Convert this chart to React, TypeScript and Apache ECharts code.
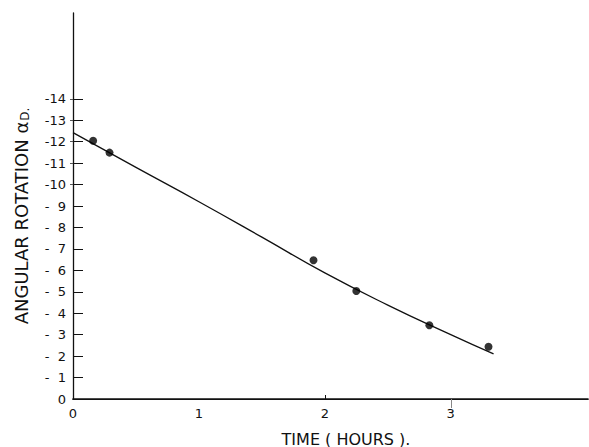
import React, { useEffect, useRef } from "react";
import * as echarts from "echarts";

// Measured points (time in hours, angular rotation magnitude)
const pointTimes = [0.16, 0.29, 1.91, 2.25, 2.83, 3.3];
const pointRotations = [12.04, 11.49, 6.47, 5.04, 3.44, 2.44];

// Fitted curve drawn through the data
const curveTimes = [0, 0.5, 1.0, 1.5, 2.0, 2.5, 3.0, 3.34];
const curveRotations = [12.42, 10.8, 9.2, 7.55, 5.88, 4.38, 3.0, 2.1];

const xTickLabels = [0, 1, 2, 3];
const yTickLabels = [0, 1, 2, 3, 4, 5, 6, 7, 8, 9, 10, 11, 12, 13, 14];
const yTickMarks = [1, 2, 3, 4, 5, 6, 7, 8, 9, 10, 11, 12, 13, 14];

const FONT = "DejaVu Sans";
const INK = "#111";

export default function App() {
  const ref = useRef<HTMLDivElement>(null);

  useEffect(() => {
    if (!ref.current) return;
    const chart = echarts.init(ref.current, null, { renderer: "svg" });
    const fmtY = (v: number) => {
      if (v === 0) return "0";
      return v >= 10 ? "-" + v : "-\u2007" + v;
    };
    chart.setOption({
      animation: false,
      backgroundColor: "#fff",
      grid: { left: 73, right: 1, top: 13, bottom: 48, containLabel: false },
      xAxis: [
        {
          type: "value",
          min: 0,
          max: 4.09,
          interval: 1,
          position: "bottom",
          axisLine: { show: true, lineStyle: { color: INK, width: 1.6 } },
          axisTick: { show: true, inside: true, length: 4, customValues: [2], lineStyle: { color: INK } },
          axisLabel: {
            customValues: xTickLabels,
            color: INK,
            fontFamily: FONT,
            fontSize: 13,
            margin: 8,
          },
          splitLine: { show: false },
        },
        {
          type: "value",
          min: 0,
          max: 4.09,
          interval: 1,
          position: "top",
          axisLine: { show: true, lineStyle: { color: INK, width: 1.2 } },
          axisTick: { show: true, inside: true, length: 9, customValues: [3], lineStyle: { color: "#888" } },
          axisLabel: { show: false },
          splitLine: { show: false },
        },
      ],
      yAxis: [
        {
          type: "value",
          min: 0,
          max: 18,
          interval: 1,
          position: "left",
          axisLine: { show: true, lineStyle: { color: INK, width: 1.3 } },
          axisTick: { show: true, inside: true, length: 10, customValues: yTickMarks, lineStyle: { color: INK } },
          axisLabel: {
            customValues: yTickLabels,
            formatter: fmtY,
            color: INK,
            fontFamily: FONT,
            fontSize: 13,
            margin: 7,
          },
          splitLine: { show: false },
        },
        {
          type: "value",
          min: 0,
          max: 18,
          interval: 1,
          position: "right",
          axisLine: { show: false },
          axisTick: { show: true, inside: true, length: 3, customValues: [10, 11, 12, 13, 14], lineStyle: { color: "#555" } },
          axisLabel: { show: false },
          splitLine: { show: false },
        },
      ],
      series: [
        {
          type: "line",
          data: curveTimes.map((t, i) => [t, curveRotations[i]]),
          smooth: true,
          showSymbol: false,
          lineStyle: { color: INK, width: 1.3 },
          xAxisIndex: 0,
          yAxisIndex: 0,
          z: 2,
        },
        {
          type: "scatter",
          data: pointTimes.map((t, i) => [t, pointRotations[i]]),
          symbol: "circle",
          symbolSize: 8,
          itemStyle: { color: "#000" },
          xAxisIndex: 0,
          yAxisIndex: 0,
          z: 3,
        },
      ],
      graphic: [
        {
          type: "text",
          x: 21,
          y: 216,
          rotation: Math.PI / 2,
          style: {
            text: "{a|ANGULAR ROTATION α}{s|D.}",
            align: "center",
            verticalAlign: "middle",
            fill: INK,
            rich: {
              a: { fontFamily: FONT, fontSize: 18, fill: INK, color: INK },
              s: { fontFamily: FONT, fontSize: 12, fill: INK, color: INK, verticalAlign: "bottom", padding: [8, 0, 0, 1] },
            },
          },
        },
        {
          type: "text",
          x: 346,
          y: 439,
          style: {
            text: "TIME ( HOURS ).",
            align: "center",
            verticalAlign: "middle",
            fontFamily: FONT,
            fontSize: 16,
            fill: INK,
          },
        },
      ],
    });
    return () => chart.dispose();
  }, []);

  return (
    <div
      ref={ref}
      style={{ position: "absolute", left: 0, top: 0, width: 589, height: 447 }}
    />
  );
}
